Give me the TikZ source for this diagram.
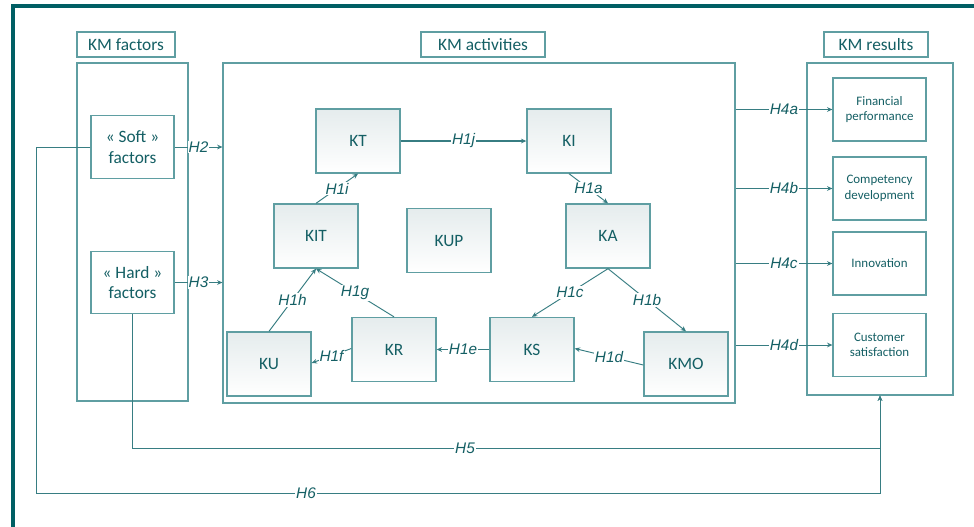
\documentclass[tikz,border=0pt]{standalone}
\usepackage{fontspec}
\setmainfont{Carlito}
\newfontfamily\labfont{Liberation Sans}
\usetikzlibrary{arrows.meta}
\definecolor{framec}{RGB}{0,95,100}
\definecolor{txtc}{RGB}{20,95,100}
\definecolor{linec}{RGB}{55,125,130}
\definecolor{boxc}{RGB}{95,158,162}
\definecolor{boxtop}{RGB}{229,236,237}
\begin{document}
\begin{tikzpicture}[x=0.75pt,y=-0.75pt,
  actbox/.style={draw=boxc, line width=1pt, top color=boxtop, bottom color=white, minimum width=63pt, minimum height=48pt, inner sep=0pt, text=txtc, font=\fontsize{13}{15}\selectfont},
  facbox/.style={draw=boxc, line width=0.9pt, fill=white, minimum width=62.25pt, minimum height=47pt, inner sep=0pt, text=txtc, align=center, font=\fontsize{13}{15.5}\selectfont},
  resbox/.style={draw=boxc, line width=0.9pt, fill=white, minimum width=69.75pt, minimum height=47.25pt, inner sep=0pt, text=txtc, align=center, font=\fontsize{9.7}{11.5}\selectfont},
  titlebox/.style={draw=boxc, line width=0.8pt, minimum height=18.75pt, inner sep=0pt, text=txtc, font=\fontsize{13}{15}\selectfont},
  bigbox/.style={draw=boxc, line width=0.8pt, inner sep=0pt},
  hlab/.style={fill=white, inner sep=0.8pt, text=txtc, font=\labfont\itshape\fontsize{11.5}{13}\selectfont},
  conn/.style={draw=linec, line width=0.7pt},
  arr/.style={conn, -{Stealth[length=4pt,width=3.5pt]}}
]
\useasboundingbox (0,0) rectangle (974,526);
\clip (0,0) rectangle (974,526);
\fill[white] (0,0) rectangle (974,526);
\draw[framec, line width=3pt] (13,540) -- (13,5.5) -- (990,5.5);

% titles
\node[titlebox, minimum width=73.5pt] (tfac) at (126,44.5) {KM factors};
\node[titlebox, minimum width=93pt] (tact) at (483,44.5) {KM activities};
\node[titlebox, minimum width=78pt] (tres) at (876,44.5) {KM results};

% big boxes
\node[bigbox, minimum width=83.25pt, minimum height=253.5pt] (fac) at (132.5,232) {};
\node[bigbox, minimum width=384pt, minimum height=255pt] (act) at (479,233) {};
\node[bigbox, minimum width=109.5pt, minimum height=249pt] (res) at (880,229) {};

% factors
\node[facbox] (soft) at (132.5,147) {« Soft »\\factors};
\node[facbox] (hard) at (132.5,282.5) {« Hard »\\factors};

% activities
\node[actbox] (KT) at (358,141) {KT};
\node[actbox] (KI) at (569,141) {KI};
\node[actbox] (KIT) at (316,236) {KIT};
\node[actbox] (KUP) at (449,240.5) {KUP};
\node[actbox] (KA) at (608,236) {KA};
\node[actbox] (KU) at (269,364) {KU};
\node[actbox] (KR) at (394,349.5) {KR};
\node[actbox] (KS) at (532,349.5) {KS};
\node[actbox] (KMO) at (686,364) {KMO};

% results
\node[resbox] (fin) at (879.5,109.5) {Financial\\performance};
\node[resbox] (comp) at (879.5,188.5) {Competency\\development};
\node[resbox] (inno) at (879.5,263.5) {Innovation};
\node[resbox] (cust) at (879.5,345) {Customer\\satisfaction};

% H1 connectors
\draw[arr, line width=1.3pt] (KT.east) -- node[hlab]{H1j} (KI.west);
\draw[arr] (KI.south) -- node[hlab]{H1a} (KA.north);
\draw[arr] (KA.south) -- node[hlab]{H1c} (KS.north);
\draw[arr] (KA.south) -- node[hlab]{H1b} (KMO.north);
\draw[arr] ([yshift=-0.75pt]KMO.west) -- node[hlab]{H1d} ([yshift=0.75pt]KS.east);
\draw[arr] (KS.west) -- node[hlab]{H1e} (KR.east);
\draw[arr] ([yshift=0.75pt]KR.west) -- node[hlab]{H1f} ([yshift=0.75pt]KU.east);
\draw[arr] (KU.north) -- node[hlab]{H1h} (KIT.south);
\draw[arr] (KR.north) -- node[hlab]{H1g} (KIT.south);
\draw[arr] (KIT.north) -- node[hlab]{H1i} (KT.south);

% H2, H3
\draw[arr] (soft.east) -- node[hlab]{H2} (act.west |- soft.east);
\draw[arr] (hard.east) -- node[hlab]{H3} (act.west |- hard.east);

% H4
\draw[arr] (act.east |- fin.west) -- node[hlab]{H4a} (fin.west);
\draw[arr] (act.east |- comp.west) -- node[hlab]{H4b} (comp.west);
\draw[arr] (act.east |- inno.west) -- node[hlab]{H4c} (inno.west);
\draw[arr] (act.east |- cust.west) -- node[hlab]{H4d} (cust.west);

% H5, H6
\coordinate (h5) at (880,448);
\coordinate (h6) at (36,493);
\draw[arr] (hard.south) |- (h5) -- (res.south);
\draw[arr] (soft.west) -| (h6) -| (res.south);
\node[hlab] (l5) at (465,448) {H5};
\node[hlab] (l6) at (306,493) {H6};
\end{tikzpicture}
\end{document}
